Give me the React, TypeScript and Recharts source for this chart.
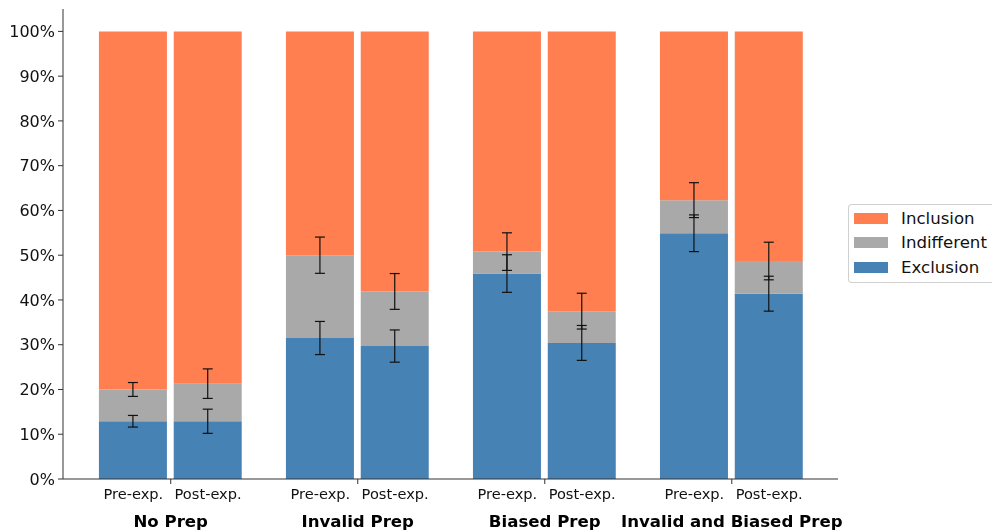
import React from 'react';
import { BarChart, Bar, XAxis, YAxis, ErrorBar, Legend } from 'recharts';

const groups = ['No Prep', 'Invalid Prep', 'Biased Prep', 'Invalid and Biased Prep'];
const phases = ['Pre-exp.', 'Post-exp.'];
const exclusion = [12.9, 12.9, 31.5, 29.7, 45.9, 30.4, 54.9, 41.4];
const indifferent = [7.1, 8.4, 18.5, 12.2, 4.9, 7.1, 7.4, 7.3];
const inclusion = [80.0, 78.7, 50.0, 58.1, 49.2, 62.5, 37.7, 51.3];
const exclusionErr = [1.3, 2.7, 3.7, 3.6, 4.2, 3.9, 4.1, 3.9];
const indifferentErr = [1.55, 3.3, 4.05, 4.0, 4.2, 4.0, 3.9, 4.2];
const yTicks = [0, 10, 20, 30, 40, 50, 60, 70, 80, 90, 100];

const series = [
  { key: 'inclusion', name: 'Inclusion', color: '#FF7F50' },
  { key: 'indifferent', name: 'Indifferent', color: '#A9A9A9' },
  { key: 'exclusion', name: 'Exclusion', color: '#4682B4' },
];

const OFFSET = 0.2;

const data = exclusion.map((_, i) => {
  const gi = Math.floor(i / 2);
  const ph = i % 2;
  return {
    x: gi + (ph === 0 ? -OFFSET : OFFSET),
    exclusion: exclusion[i],
    indifferent: indifferent[i],
    inclusion: inclusion[i],
    excErr: exclusionErr[i],
    indErr: indifferentErr[i],
  };
});

const xTicks: number[] = [];
groups.forEach((_, gi) => {
  xTicks.push(gi - OFFSET, gi, gi + OFFSET);
});

const FONT = '"DejaVu Sans", sans-serif';

const XTick = (props: any) => {
  const { x, y, payload } = props;
  const v = payload.value;
  const gi = Math.round(v);
  if (Math.abs(v - gi) < 1e-6) {
    return (
      <g>
        <line x1={x} x2={x} y1={y} y2={y + 5} stroke="#333" strokeWidth={1} />
        <text
          x={x}
          y={y + 42}
          textAnchor="middle"
          dominantBaseline="central"
          fontFamily={FONT}
          fontWeight="bold"
          fontSize={16.6}
          fill="#000"
        >
          {groups[gi]}
        </text>
      </g>
    );
  }
  const label = v < gi ? phases[0] : phases[1];
  return (
    <text
      x={x}
      y={y + 14}
      textAnchor="middle"
      dominantBaseline="central"
      fontFamily={FONT}
      fontSize={14.6}
      fill="#111"
    >
      {label}
    </text>
  );
};

const LegendBox = () => (
  <div
    style={{
      border: '1px solid #d0d0d0',
      borderRight: 'none',
      borderRadius: '4px 0 0 4px',
      background: '#fff',
      width: 144,
      height: 79,
      boxSizing: 'border-box',
      paddingTop: 1,
      fontFamily: FONT,
      fontSize: 16.6,
      color: '#111',
      whiteSpace: 'nowrap',
    }}
  >
    {series.map((s) => (
      <div key={s.key} style={{ display: 'flex', alignItems: 'center', height: 24.5 }}>
        <div style={{ width: 34, height: 11, background: s.color, marginLeft: 5, marginRight: 13, flex: 'none' }} />
        <span>{s.name}</span>
      </div>
    ))}
  </div>
);

export default function App() {
  return (
    <div style={{ position: 'fixed', left: 8, top: 8 }}>
      <BarChart
        width={984}
        height={523}
        data={data}
        margin={{ top: 1, right: 154, bottom: 0, left: 0 }}
      >
        <XAxis
          dataKey="x"
          type="number"
          domain={[-0.576, 3.568]}
          ticks={xTicks}
          interval={0}
          tick={<XTick />}
          tickLine={false}
          tickSize={0}
          tickMargin={0}
          height={52}
          axisLine={{ stroke: '#333', strokeWidth: 1 }}
          allowDataOverflow
        />
        <YAxis
          type="number"
          domain={[0, 105]}
          ticks={yTicks}
          interval={0}
          width={55}
          tickSize={5}
          tickMargin={3}
          tickFormatter={(v: number) => `${v}%`}
          tick={{ fontFamily: FONT, fontSize: 16, fill: '#111' }}
          tickLine={{ stroke: '#333' }}
          axisLine={{ stroke: '#333', strokeWidth: 1 }}
          allowDataOverflow
        />
        <Legend
          layout="vertical"
          align="center"
          verticalAlign="middle"
          wrapperStyle={{ left: 840, top: 196, width: 144 }}
          content={() => <LegendBox />}
        />
        <Bar dataKey="exclusion" name="Exclusion" stackId="s" fill="#4682B4" barSize={68} isAnimationActive={false}>
          <ErrorBar dataKey="excErr" width={5} stroke="#111" strokeWidth={1.2} direction="y" />
        </Bar>
        <Bar dataKey="indifferent" name="Indifferent" stackId="s" fill="#A9A9A9" barSize={68} isAnimationActive={false}>
          <ErrorBar dataKey="indErr" width={5} stroke="#111" strokeWidth={1.2} direction="y" />
        </Bar>
        <Bar dataKey="inclusion" name="Inclusion" stackId="s" fill="#FF7F50" barSize={68} isAnimationActive={false} />
      </BarChart>
    </div>
  );
}
